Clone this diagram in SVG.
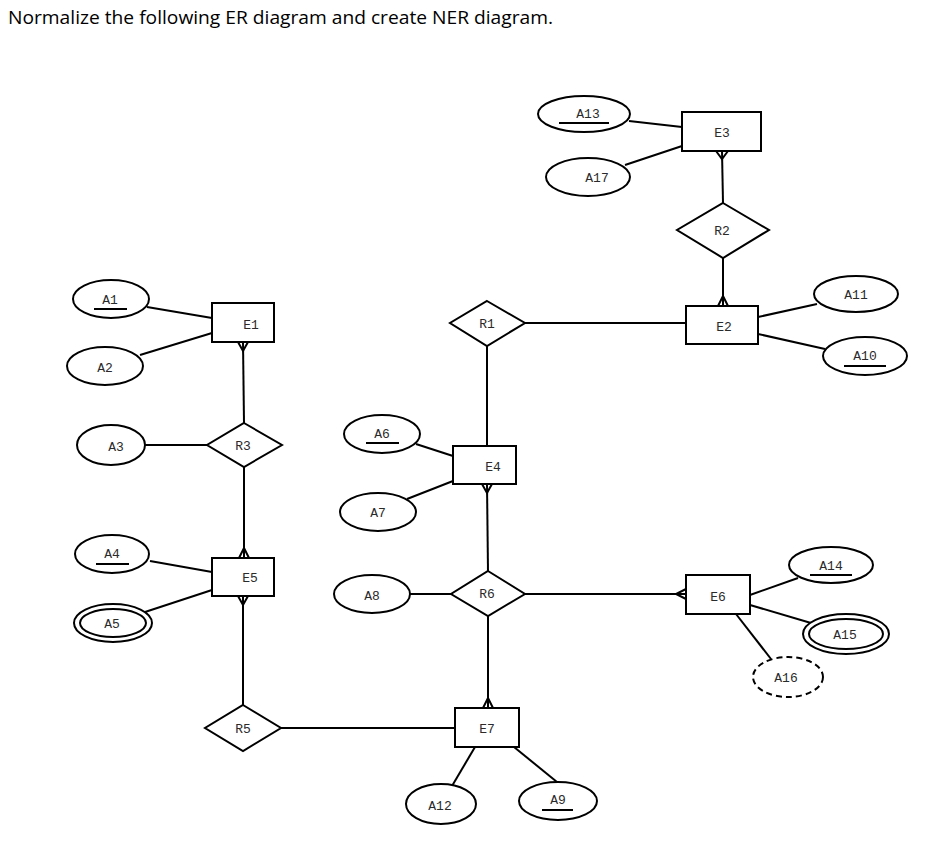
<svg xmlns="http://www.w3.org/2000/svg" width="950" height="868" viewBox="0 0 950 868">
<style>
.bg{fill:#fff}
.ent rect,.rel polygon,.att ellipse{fill:#fff;stroke:#000;stroke-width:2}
.att ellipse.dash{stroke-dasharray:6 4}
.lbl{font-family:"Liberation Mono","DejaVu Sans Mono",monospace;font-size:13px;fill:#2a2a2a;text-anchor:middle;dominant-baseline:central}
.ul{stroke:#000;stroke-width:2}
#connectors line,#connectors path{stroke:#000;stroke-width:2;fill:none}
.title{font-family:"Open Sans","Liberation Sans",sans-serif;font-size:19px;fill:#000}
</style>
<rect class="bg" x="0" y="0" width="950" height="868"/>
<text class="title" x="8" y="24" textLength="545" lengthAdjust="spacingAndGlyphs">Normalize the following ER diagram and create NER diagram.</text>

<g id="connectors">
<line x1="629" y1="121" x2="682" y2="127"/>
<line x1="625" y1="165" x2="682" y2="146"/>
<line x1="722" y1="151" x2="723" y2="203"/>
<path d="M716 151 L722 159 L728 151"/>
<line x1="723" y1="258" x2="723" y2="306"/>
<path d="M718 306 L723 296 L728 306"/>
<line x1="758" y1="317" x2="817" y2="304"/>
<line x1="758" y1="334" x2="825" y2="349"/>
<line x1="525" y1="323" x2="686" y2="323"/>
<line x1="487" y1="346" x2="487" y2="446"/>
<line x1="416" y1="444" x2="453" y2="456"/>
<line x1="407" y1="499" x2="453" y2="481"/>
<line x1="487" y1="484" x2="488" y2="571"/>
<path d="M482 484 L487 493 L492 484"/>
<line x1="410" y1="594" x2="451" y2="594"/>
<line x1="525" y1="594" x2="686" y2="594"/>
<path d="M686 589 L676 594 L686 599"/>
<line x1="488" y1="616" x2="488" y2="708"/>
<path d="M483 708 L488 698 L493 708"/>
<line x1="750" y1="595" x2="798" y2="578"/>
<line x1="750" y1="605" x2="811" y2="623"/>
<line x1="736" y1="614" x2="771" y2="659"/>
<line x1="475" y1="747" x2="452" y2="786"/>
<line x1="514" y1="747" x2="557" y2="782"/>
<line x1="281" y1="728" x2="455" y2="728"/>
<line x1="243" y1="596" x2="243" y2="705"/>
<path d="M238 596 L243 605 L248 596"/>
<line x1="244" y1="467" x2="244" y2="558"/>
<path d="M239 558 L244 548 L249 558"/>
<line x1="243" y1="342" x2="244" y2="423"/>
<path d="M238 342 L243 351 L248 342"/>
<line x1="145" y1="445" x2="207" y2="445"/>
<line x1="147" y1="307" x2="212" y2="318"/>
<line x1="140" y1="355" x2="212" y2="333"/>
<line x1="150" y1="561" x2="212" y2="572"/>
<line x1="145" y1="612" x2="212" y2="590"/>
</g>

<g id="E3" class="ent"><rect x="682" y="112" width="79" height="39"/><text class="lbl" x="722" y="133">E3</text></g>
<g id="E2" class="ent"><rect x="686" y="306" width="72" height="38"/><text class="lbl" x="724" y="327">E2</text></g>
<g id="E1" class="ent"><rect x="212" y="303" width="62" height="39"/><text class="lbl" x="251" y="325">E1</text></g>
<g id="E5" class="ent"><rect x="212" y="558" width="62" height="38"/><text class="lbl" x="250" y="578">E5</text></g>
<g id="E4" class="ent"><rect x="453" y="446" width="63" height="38"/><text class="lbl" x="493" y="467">E4</text></g>
<g id="E6" class="ent"><rect x="686" y="575" width="64" height="39"/><text class="lbl" x="718" y="597">E6</text></g>
<g id="E7" class="ent"><rect x="455" y="708" width="64" height="39"/><text class="lbl" x="487" y="729">E7</text></g>

<g id="R2" class="rel"><polygon points="723,203 769,230 723,258 677,230"/><text class="lbl" x="722" y="231">R2</text></g>
<g id="R1" class="rel"><polygon points="487,301 525,323 487,346 450,323"/><text class="lbl" x="487" y="324">R1</text></g>
<g id="R3" class="rel"><polygon points="244,423 282,445 244,467 207,445"/><text class="lbl" x="243" y="446">R3</text></g>
<g id="R6" class="rel"><polygon points="488,571 525,594 488,616 451,594"/><text class="lbl" x="487" y="594">R6</text></g>
<g id="R5" class="rel"><polygon points="243,705 281,728 243,751 205,728"/><text class="lbl" x="243" y="729">R5</text></g>

<g id="A13" class="att"><ellipse cx="584" cy="114" rx="46" ry="18"/><text class="lbl" x="588" y="114">A13</text><line class="ul" x1="559" y1="123" x2="609" y2="123"/></g>
<g id="A17" class="att"><ellipse cx="588" cy="177" rx="42" ry="19"/><text class="lbl" x="597" y="178">A17</text></g>
<g id="A11" class="att"><ellipse cx="856" cy="294" rx="42" ry="18"/><text class="lbl" x="856" y="295">A11</text></g>
<g id="A10" class="att"><ellipse cx="865" cy="356" rx="42" ry="19"/><text class="lbl" x="865" y="356">A10</text><line class="ul" x1="844" y1="366" x2="886" y2="366"/></g>
<g id="A1" class="att"><ellipse cx="111" cy="299" rx="38" ry="19"/><text class="lbl" x="110" y="300">A1</text><line class="ul" x1="94" y1="309" x2="127" y2="309"/></g>
<g id="A2" class="att"><ellipse cx="105" cy="366" rx="38" ry="19"/><text class="lbl" x="105" y="368">A2</text></g>
<g id="A3" class="att"><ellipse cx="111" cy="445" rx="34" ry="20"/><text class="lbl" x="116" y="447">A3</text></g>
<g id="A4" class="att"><ellipse cx="112" cy="554" rx="37" ry="19"/><text class="lbl" x="112" y="554">A4</text><line class="ul" x1="96" y1="564" x2="129" y2="564"/></g>
<g id="A5" class="att"><ellipse cx="113" cy="623" rx="39" ry="19"/><ellipse cx="113" cy="623" rx="33" ry="14"/><text class="lbl" x="112" y="624">A5</text></g>
<g id="A6" class="att"><ellipse cx="382" cy="434" rx="38" ry="19"/><text class="lbl" x="382" y="434">A6</text><line class="ul" x1="366" y1="443" x2="399" y2="443"/></g>
<g id="A7" class="att"><ellipse cx="378" cy="512" rx="38" ry="19"/><text class="lbl" x="378" y="513">A7</text></g>
<g id="A8" class="att"><ellipse cx="372" cy="594" rx="38" ry="19"/><text class="lbl" x="372" y="596">A8</text></g>
<g id="A14" class="att"><ellipse cx="831" cy="565" rx="42" ry="18"/><text class="lbl" x="831" y="566">A14</text><line class="ul" x1="810" y1="575" x2="852" y2="575"/></g>
<g id="A15" class="att"><ellipse cx="846" cy="634" rx="43" ry="20"/><ellipse cx="846" cy="634" rx="37" ry="15"/><text class="lbl" x="845" y="635">A15</text></g>
<g id="A16" class="att"><ellipse class="dash" cx="788" cy="677" rx="35" ry="20"/><text class="lbl" x="786" y="678">A16</text></g>
<g id="A12" class="att"><ellipse cx="441" cy="804" rx="35" ry="20"/><text class="lbl" x="440" y="806">A12</text></g>
<g id="A9" class="att"><ellipse cx="558" cy="801" rx="39" ry="19"/><text class="lbl" x="558" y="800">A9</text><line class="ul" x1="542" y1="810" x2="573" y2="810"/></g>
</svg>
